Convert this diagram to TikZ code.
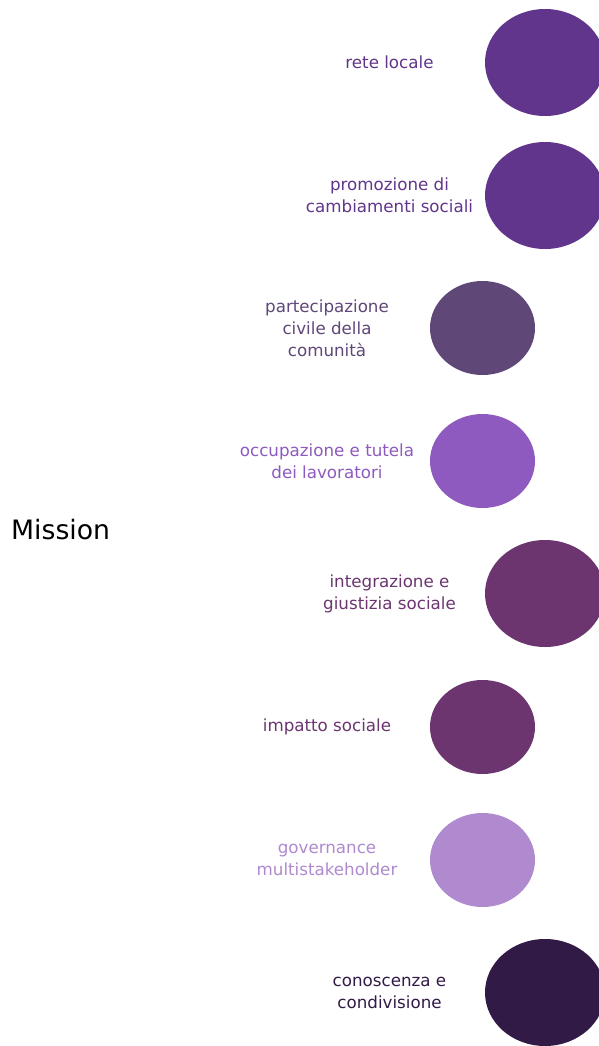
\documentclass[tikz,border=0pt]{standalone}
\usepackage{fontspec}
\setmainfont{DejaVu Sans}
\definecolor{cRete}{RGB}{97,53,139}
\definecolor{cPart}{RGB}{95,71,120}
\definecolor{cOccu}{RGB}{142,90,191}
\definecolor{cInte}{RGB}{108,53,112}
\definecolor{cGove}{RGB}{175,138,207}
\definecolor{cCono}{RGB}{50,26,70}
\tikzset{
  bigdot/.style={ellipse, minimum width=120pt, minimum height=107pt, inner sep=0pt, fill=#1},
  smalldot/.style={ellipse, minimum width=105pt, minimum height=94pt, inner sep=0pt, fill=#1},
  lbl/.style={align=center, inner sep=0pt, text=#1,
    font=\fontsize{16.7pt}{22pt}\selectfont},
}
\usetikzlibrary{shapes.geometric}
\begin{document}
\begin{tikzpicture}[x=1pt,y=-1pt]
\useasboundingbox (0,0) rectangle (599,1046);
\clip (0,0) rectangle (599,1046);
\fill[white] (0,0) rectangle (599,1046);

\node[anchor=west, inner sep=0pt, font=\fontsize{26.7pt}{32pt}\selectfont] (mission) at (11,530) {Mission};

\node[bigdot=cRete] (d1) at (545,62.5) {};
\node[lbl=cRete] (t1) at (389.5,62.5) {rete locale};

\node[bigdot=cRete] (d2) at (545,195.5) {};
\node[lbl=cRete] (t2) at (389.5,195.5) {promozione di\\cambiamenti sociali};

\node[smalldot=cPart] (d3) at (482.5,328) {};
\node[lbl=cPart] (t3) at (327,328) {partecipazione\\civile della\\comunità};

\node[smalldot=cOccu] (d4) at (482.5,461) {};
\node[lbl=cOccu] (t4) at (327,461) {occupazione e tutela\\dei lavoratori};

\node[bigdot=cInte] (d5) at (545,593.5) {};
\node[lbl=cInte] (t5) at (389.5,593.5) {integrazione e\\giustizia sociale};

\node[smalldot=cInte] (d6) at (482.5,727) {};
\node[lbl=cInte] (t6) at (327,727) {impatto sociale};

\node[smalldot=cGove] (d7) at (482.5,860) {};
\node[lbl=cGove] (t7) at (327,860) {governance\\multistakeholder};

\node[bigdot=cCono] (d8) at (545,992.5) {};
\node[lbl=cCono] (t8) at (389.5,992.5) {conoscenza e\\condivisione};
\end{tikzpicture}
\end{document}
